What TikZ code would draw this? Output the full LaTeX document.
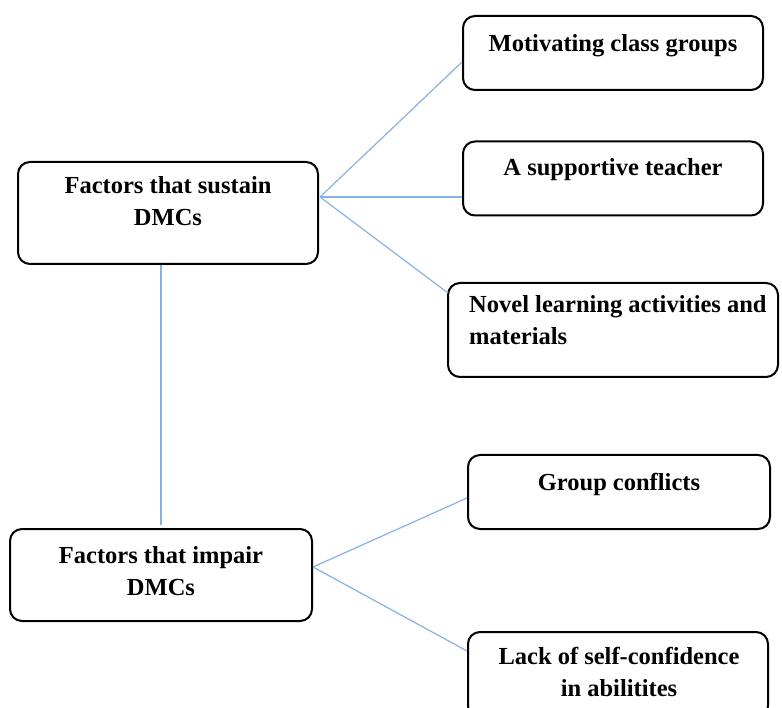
\documentclass[tikz,border=0pt]{standalone}
\usepackage{fontspec}
\setmainfont{Liberation Serif}
\definecolor{linkblue}{RGB}{132,178,226}
\tikzset{
  box/.style={draw=black, line width=2pt, rounded corners=12pt, inner sep=0pt},
  txt/.style={font=\bfseries\fontsize{24.5}{32}\selectfont, inner sep=0pt, anchor=base},
  link/.style={draw=linkblue, line width=1.2pt}
}
\begin{document}
\begin{tikzpicture}[x=1pt,y=-1pt]
\useasboundingbox (0,0) rectangle (782,708);
% boxes
\node[box, minimum width=300pt, minimum height=102pt] (sus) at (168,213) {};
\node[box, minimum width=300pt, minimum height=74pt] (mot) at (613,53) {};
\node[box, minimum width=300pt, minimum height=74pt] (sup) at (613,178.5) {};
\node[box, minimum width=330pt, minimum height=94pt] (nov) at (613,330) {};
\node[box, minimum width=302pt, minimum height=74pt] (grp) at (619,492) {};
\node[box, minimum width=302pt, minimum height=92pt] (imp) at (161,575) {};
\node[box, minimum width=300pt, minimum height=86pt] (lack) at (618,675) {};
% texts (base anchor = baseline of last line)
\node[txt, align=center] (susT) at (168,226) {Factors that sustain\\DMCs};
\node[txt] (motT) at (613,52) {Motivating class groups};
\node[txt] (supT) at (613,176) {A supportive teacher};
\node[txt, align=left, anchor=base west] (novT) at (469,345) {Novel learning activities and\\materials};
\node[txt] (grpT) at (619,490) {Group conflicts};
\node[txt, align=center] (impT) at (161,595) {Factors that impair\\DMCs};
\node[txt, align=center] (lackT) at (619,696) {Lack of self-confidence\\in abilitites};
% connectors
\coordinate (j1) at (320,197);
\coordinate (j2) at (313,567);
\draw[link] (j1) -- (mot.west |- 0,62);
\draw[link] (j1) -- (sup.west |- 0,197);
\draw[link] (j1) -- (448,293);
\draw[link] (sus.south) ++(-7,0) coordinate (vs) -- (vs |- 0,525);
\draw[link] (j2) -- (grp.west |- 0,498);
\draw[link] (j2) -- (lack.west |- 0,651);
\end{tikzpicture}
\end{document}
